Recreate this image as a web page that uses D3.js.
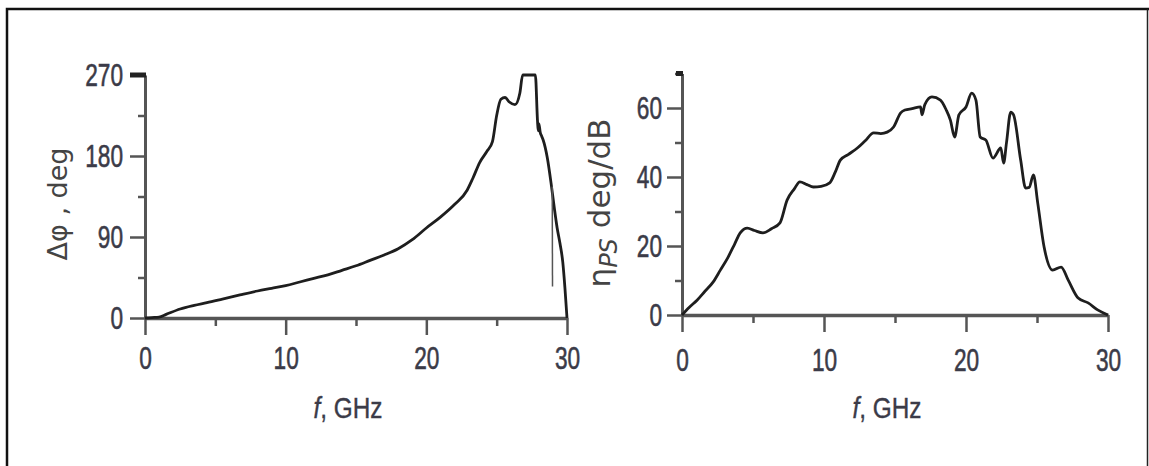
<!DOCTYPE html>
<html>
<head>
<meta charset="utf-8">
<script src="https://cdn.jsdelivr.net/npm/d3@7"></script>
<style>
  body { margin: 0; background: #fff; }
  .tick text { font-family: "Liberation Sans", Arial, sans-serif; font-size: 32px; fill: #3b3b48; stroke: #3b3b48; stroke-width: 0.6px; }
  .axis path, .axis line { stroke: #555; }
  .title { font-family: "Liberation Sans", Arial, sans-serif; font-size: 29px; fill: #3b3b48; stroke: #3b3b48; stroke-width: 0.4px; }
  .ytitle { font-family: "DejaVu Sans", sans-serif; font-size: 27px; fill: #444; }
</style>
</head>
<body>
<svg id="chart" width="1149" height="466"></svg>
<script>
// frequency axis (GHz)
var fTicks = [0, 10, 20, 30];
var fMinor = [5, 15, 25];

// left panel: phase shift, deg
var phiTicks = [0, 90, 180, 270];
var phiMinor = [45, 135, 225];
var phiF   = [0, 0.5, 1, 1.5, 2.5, 3.5, 4.4, 5.5, 6.75, 8, 9, 10, 11, 12, 13, 14, 15, 16, 17, 18, 19, 20, 21, 22, 22.9, 23.3, 23.8, 24.3, 24.7, 25.0, 25.3, 25.6, 25.9, 26.3, 26.65, 26.85, 27.3, 27.75, 27.9, 27.95, 28.0, 28.1, 28.2, 28.3, 28.6, 28.9, 29.1, 29.3, 29.5, 29.7, 29.85, 30];
var phiVal = [0, 0.5, 1, 4, 10, 14, 17, 21, 25.6, 30, 33, 36, 40, 44, 48, 53, 58, 64, 70, 77, 87, 100, 112, 126, 142, 155, 173, 185, 196, 225, 243, 245, 240, 237, 250, 270, 270, 270, 220, 208, 216, 206, 202, 198, 178, 146, 122, 100, 83, 62, 34, 0];
var spikeF   = [28.95, 28.97];
var spikeVal = [146, 35];

// right panel: eta_PS, deg/dB
var etaTicks = [0, 20, 40, 60];
var etaMinor = [10, 30, 50, 70];
var etaF   = [0, 0.5, 1.06, 1.6, 2.2, 2.7, 3.25, 3.7, 4.1, 4.6, 5.1, 5.7, 6.3, 6.9, 7.4, 7.9, 8.3, 8.8, 9.25, 9.8, 10.4, 10.8, 11.15, 11.7, 12.35, 12.9, 13.5, 14.0, 14.45, 14.9, 15.4, 15.7, 16.2, 16.8, 16.9, 17.1, 17.6, 18.2, 18.6, 18.9, 19.2, 19.5, 20.0, 20.4, 20.7, 21.0, 21.4, 21.9, 22.45, 22.65, 22.85, 23.15, 23.35, 23.85, 24.2, 24.45, 24.75, 25.05, 25.5, 26.1, 26.7, 27.2, 27.9, 28.6, 29.3, 30];
var etaVal = [0, 2.2, 4.3, 6.8, 9.6, 13, 16.8, 20.5, 23.8, 25.2, 24.5, 23.8, 25, 26.7, 33.3, 36.5, 38.6, 37.8, 37.1, 37.3, 38.3, 41.5, 44.9, 46.5, 48.4, 50.5, 52.8, 52.6, 53, 54.5, 58.6, 59.4, 59.8, 60.3, 58, 61, 63.2, 62.3, 59.5, 56.5, 51.6, 58, 60.3, 64.3, 62.3, 51.6, 50.7, 45.5, 48.4, 44, 49.9, 58.8, 58, 44.9, 36.8, 37, 40.6, 32.5, 19.7, 13, 13.9, 10.1, 4.9, 3.5, 1.4, 0];

var svg = d3.select("#chart");

// outer frame
svg.append("path")
    .attr("d", "M7,466 V9 H1149")
    .attr("fill", "none").attr("stroke", "#111").attr("stroke-width", 2.5);
svg.append("line")
    .attr("x1", 1147.5).attr("x2", 1147.5).attr("y1", 9).attr("y2", 466)
    .attr("stroke", "#222").attr("stroke-width", 1.5);

// squeeze tick labels to look like a condensed face
function condense(sel) {
    sel.selectAll(".tick text").each(function() {
        var t = d3.select(this);
        t.attr("textLength", t.text().length * 12.6).attr("lengthAdjust", "spacingAndGlyphs");
    });
}

function panel(opt) {
    var x = d3.scaleLinear().domain([0, 30]).range(opt.xr);
    var y = d3.scaleLinear().domain(opt.yd).range(opt.yr);
    var g = svg.append("g");

    // minor ticks first
    g.append("g").attr("class", "axis")
        .attr("transform", "translate(" + opt.xr[0] + ",0)")
        .call(d3.axisLeft(y).tickValues(opt.yMinor).tickSize(7).tickSizeOuter(0).tickFormat(""))
        .call(function(s) { s.selectAll("line").attr("stroke-width", 2.5); s.select(".domain").remove(); });
    g.append("g").attr("class", "axis")
        .attr("transform", "translate(0," + opt.yr[0] + ")")
        .call(d3.axisBottom(x).tickValues(fMinor).tickSize(8).tickSizeOuter(0).tickFormat(""))
        .call(function(s) { s.selectAll("line").attr("stroke-width", 2.5); s.select(".domain").remove(); });

    var ya = g.append("g").attr("class", "axis")
        .attr("transform", "translate(" + opt.xr[0] + ",0)")
        .call(d3.axisLeft(y).tickValues(opt.yTicks).tickSize(15).tickSizeOuter(0).tickPadding(opt.yPad))
        .call(condense);
    ya.select(".domain").attr("stroke-width", 3);
    ya.selectAll("line").attr("stroke-width", 2.5);

    var xa = g.append("g").attr("class", "axis")
        .attr("transform", "translate(0," + opt.yr[0] + ")")
        .call(d3.axisBottom(x).tickValues(fTicks).tickSize(17).tickSizeOuter(0).tickPadding(opt.xPad))
        .call(condense);
    xa.select(".domain").attr("stroke-width", 3.5);
    xa.selectAll("line").attr("stroke-width", 2.5);

    // heavier mark at top of the y axis
    g.append("line")
        .attr("x1", opt.xr[0] - opt.topLen).attr("x2", opt.xr[0] + 1)
        .attr("y1", y(opt.yd[1])).attr("y2", y(opt.yd[1]))
        .attr("stroke", "#222").attr("stroke-width", 5);

    var line = d3.line()
        .curve(d3.curveMonotoneX)
        .x(function(d) { return x(d[0]); })
        .y(function(d) { return y(d[1]); });

    opt.series.forEach(function(s) {
        g.append("path")
            .datum(d3.zip(s.f, s.v))
            .attr("d", line)
            .attr("fill", "none")
            .attr("stroke", s.color)
            .attr("stroke-width", s.w)
            .attr("stroke-linejoin", "round");
    });

    g.append("text").attr("class", "title")
        .attr("x", (opt.xr[0] + opt.xr[1]) / 2 - 8)
        .attr("y", 418)
        .attr("text-anchor", "middle")
        .attr("textLength", 69).attr("lengthAdjust", "spacingAndGlyphs")
        .html('<tspan font-style="italic">f</tspan>, GHz');

    return {x: x, y: y, g: g};
}

panel({
    xr: [145, 567], yd: [0, 270], yr: [318, 75],
    yTicks: phiTicks, yMinor: phiMinor, yPad: 7, xPad: 11, topLen: 15,
    series: [
        {f: phiF, v: phiVal, color: "#1e1e1e", w: 2.8},
        {f: spikeF, v: spikeVal, color: "#555", w: 1.5}
    ]
});

panel({
    xr: [682, 1108], yd: [0, 70], yr: [315, 73.5],
    yTicks: etaTicks, yMinor: etaMinor, yPad: 5, xPad: 16, topLen: 6,
    series: [
        {f: etaF, v: etaVal, color: "#1e1e1e", w: 2.8}
    ]
});

// y titles (rotated)
svg.append("text").attr("class", "ytitle")
    .attr("transform", "translate(67,204) rotate(-90)")
    .attr("text-anchor", "middle")
    .text("\u0394\u03c6 , deg");

svg.append("text").attr("class", "ytitle")
    .attr("transform", "translate(610,203) rotate(-90)")
    .attr("text-anchor", "middle")
    .style("font-size", "31px")
    .html('\u03b7<tspan font-style="italic" font-size="24" dy="7">PS</tspan><tspan dy="-7"> deg/dB</tspan>');
</script>
</body>
</html>
